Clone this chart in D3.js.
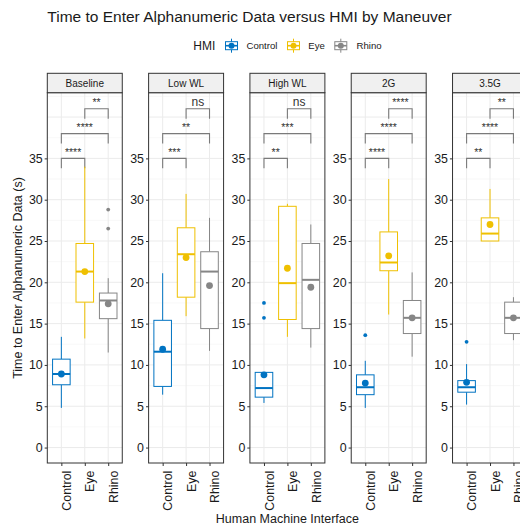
<!DOCTYPE html>
<html>
<head>
<meta charset="utf-8">
<script src="https://cdn.jsdelivr.net/npm/d3@7"></script>
<style>
  html, body { margin: 0; padding: 0; background: #fff; }
  svg { display: block; font-family: "Liberation Sans", Arial, sans-serif; }
</style>
</head>
<body>
<script>
// ---------------- data ----------------
const maneuvers = ["Baseline", "Low WL", "High WL", "2G", "3.5G"];
const hmis = ["Control", "Eye", "Rhino"];
const hmiColors = ["#0073C2", "#EFC000", "#868686"];
const yTicks = [0, 5, 10, 15, 20, 25, 30, 35];

// per maneuver: [Control, Eye, Rhino]
const whiskerLow  = [[4.8, 13.2, 11.5], [6.4, 15.9, 11.7], [5.4, 13.4, 12.1], [4.8, 16.1, 11.0], [5.2, 25.0, 13.0]];
const q1          = [[7.6, 17.6, 15.6], [7.4, 18.2, 14.4], [6.1, 15.5, 14.4], [6.4, 21.4, 13.8], [6.7, 25.0, 13.8]];
const medians     = [[8.9, 21.3, 17.8], [11.6, 23.4, 21.3], [7.2, 19.9, 20.3], [7.3, 22.4, 15.7], [7.3, 25.9, 15.7]];
const q3          = [[10.7, 24.7, 18.7], [15.4, 26.6, 23.7], [9.1, 29.2, 24.7], [8.8, 26.1, 17.8], [8.1, 27.8, 17.6]];
const whiskerHigh = [[13.4, 34.0, 20.5], [21.1, 30.7, 27.8], [9.1, 29.5, 27.0], [10.5, 32.5, 21.2], [10.1, 31.3, 18.2]];
const means       = [[8.9, 21.3, 17.4], [11.9, 23.0, 19.6], [8.8, 21.7, 19.4], [7.8, 23.2, 15.7], [7.9, 27.0, 15.7]];
const outliers    = [[[], [], [28.8, 26.5]], [[], [], []], [[17.5, 15.7], [], []], [[13.6], [], []], [[12.8], [], []]];

// significance brackets: pairs and their labels per maneuver
const pairs = [["Control", "Eye"], ["Control", "Rhino"], ["Eye", "Rhino"]];
const bracketLevels = [35, 38, 41];
const sigLabels = [
  ["****", "****", "**"],
  ["***", "**", "ns"],
  ["**", "***", "ns"],
  ["****", "****", "****"],
  ["**", "****", "**"]
];

// ---------------- drawing ----------------
const W = 520, H = 525;
const svg = d3.select("body").append("svg").attr("width", W).attr("height", H);
svg.append("rect").attr("width", W).attr("height", H).attr("fill", "#fff");

const panelTop = 92.7, panelBottom = 463;
const fx = d3.scaleBand().domain(maneuvers).range([47.3, 527.5]).paddingInner(0.26).paddingOuter(0);
const y = d3.scaleLinear().domain([-1.87, 42.95]).range([panelBottom, panelTop]);
const xIn = d3.scalePoint().domain(hmis).range([0, fx.bandwidth()]).padding(0.6);
const color = d3.scaleOrdinal().domain(hmis).range(hmiColors);
const bw = fx.bandwidth();
const boxW = xIn.step() * 0.75;

// title
svg.append("text").attr("x", 47.3).attr("y", 21.5)
  .attr("font-size", 15.5).attr("fill", "#1a1a1a")
  .text("Time to Enter Alphanumeric Data versus HMI by Maneuver");

// legend
const legend = svg.append("g");
legend.append("text").attr("x", 193.3).attr("y", 50).attr("font-size", 12).attr("fill", "#1a1a1a").text("HMI");
const legendKeyX = [224, 286, 333.3];
const legendLabelX = [246.5, 308.3, 356.5];
hmis.forEach((h, i) => {
  const kx = legendKeyX[i], ky = 38.2, ks = 15;
  const c = color(h);
  const k = legend.append("g");
  k.append("line").attr("x1", kx + ks / 2).attr("x2", kx + ks / 2).attr("y1", ky + 0.5).attr("y2", ky + ks - 0.5)
    .attr("stroke", c).attr("stroke-width", 1);
  k.append("rect").attr("x", kx + 1.5).attr("y", ky + 3.5).attr("width", ks - 3).attr("height", ks - 7)
    .attr("fill", "#fff").attr("stroke", c).attr("stroke-width", 1);
  k.append("line").attr("x1", kx + 1.5).attr("x2", kx + ks - 1.5).attr("y1", ky + ks / 2).attr("y2", ky + ks / 2)
    .attr("stroke", c).attr("stroke-width", 1.6);
  k.append("circle").attr("cx", kx + ks / 2).attr("cy", ky + ks / 2).attr("r", 3).attr("fill", c);
  legend.append("text").attr("x", legendLabelX[i]).attr("y", 49).attr("font-size", 9.6).attr("fill", "#1a1a1a").text(h);
});

// panels
maneuvers.forEach((m, mi) => {
  const g = svg.append("g").attr("transform", `translate(${fx(m)},0)`);

  g.append("rect").attr("x", 0).attr("y", panelTop).attr("width", bw).attr("height", panelBottom - panelTop).attr("fill", "#fff");

  // grid
  const minor = d3.range(2.5, 42.95, 5);
  const major = d3.range(0, 42.95, 5);
  g.selectAll(".gmin").data(minor).join("line")
    .attr("x1", 0).attr("x2", bw).attr("y1", d => y(d)).attr("y2", d => y(d))
    .attr("stroke", "#f3f3f3").attr("stroke-width", 0.6);
  g.selectAll(".gmaj").data(major).join("line")
    .attr("x1", 0).attr("x2", bw).attr("y1", d => y(d)).attr("y2", d => y(d))
    .attr("stroke", "#ebebeb").attr("stroke-width", 1);
  g.selectAll(".gx").data(hmis).join("line")
    .attr("x1", d => xIn(d)).attr("x2", d => xIn(d)).attr("y1", panelTop).attr("y2", panelBottom)
    .attr("stroke", "#ebebeb").attr("stroke-width", 1);

  // brackets
  pairs.forEach((p, pi) => {
    const yl = bracketLevels[pi];
    const x1 = xIn(p[0]), x2 = xIn(p[1]);
    const tip = 1.2;
    g.append("path")
      .attr("d", `M${x1},${y(yl - tip)}V${y(yl)}H${x2}V${y(yl - tip)}`)
      .attr("fill", "none").attr("stroke", "#7a7a7a").attr("stroke-width", 1.1);
    const lab = sigLabels[mi][pi];
    g.append("text").attr("x", (x1 + x2) / 2).attr("y", y(yl) - 2.6)
      .attr("text-anchor", "middle").attr("font-size", lab === "ns" ? 12 : 10.5)
      .attr("fill", "#333").text(lab);
  });

  // boxes
  hmis.forEach((h, hi) => {
    const c = color(h);
    const cx = xIn(h);
    g.append("line").attr("x1", cx).attr("x2", cx)
      .attr("y1", y(whiskerLow[mi][hi])).attr("y2", y(q1[mi][hi]))
      .attr("stroke", c).attr("stroke-width", 1);
    g.append("line").attr("x1", cx).attr("x2", cx)
      .attr("y1", y(q3[mi][hi])).attr("y2", y(whiskerHigh[mi][hi]))
      .attr("stroke", c).attr("stroke-width", 1);
    g.append("rect").attr("x", cx - boxW / 2).attr("y", y(q3[mi][hi]))
      .attr("width", boxW).attr("height", y(q1[mi][hi]) - y(q3[mi][hi]))
      .attr("fill", "#fff").attr("stroke", c).attr("stroke-width", 1);
    g.append("line").attr("x1", cx - boxW / 2).attr("x2", cx + boxW / 2)
      .attr("y1", y(medians[mi][hi])).attr("y2", y(medians[mi][hi]))
      .attr("stroke", c).attr("stroke-width", 2);
    g.selectAll(null).data(outliers[mi][hi]).join("circle")
      .attr("cx", cx).attr("cy", d => y(d)).attr("r", 1.9).attr("fill", c);
    g.append("circle").attr("cx", cx).attr("cy", y(means[mi][hi])).attr("r", 3.4).attr("fill", c);
  });

  // border
  g.append("rect").attr("x", 0).attr("y", panelTop).attr("width", bw).attr("height", panelBottom - panelTop)
    .attr("fill", "none").attr("stroke", "#333").attr("stroke-width", 1);

  // strip
  g.append("rect").attr("x", 0).attr("y", 73.3).attr("width", bw).attr("height", panelTop - 73.3)
    .attr("fill", "#f0f0f0").attr("stroke", "#333").attr("stroke-width", 1);
  g.append("text").attr("x", bw / 2).attr("y", 86.8).attr("text-anchor", "middle")
    .attr("font-size", 10).attr("fill", "#1a1a1a").text(m);

  // y axis
  const ya = g.append("g").call(d3.axisLeft(y).tickValues(yTicks).tickSize(2.6).tickPadding(2).tickFormat(d3.format("d")));
  ya.select(".domain").remove();
  ya.selectAll(".tick line").attr("stroke", "#333");
  ya.selectAll(".tick text").attr("font-size", 12.4).attr("fill", "#1a1a1a").attr("font-family", null);

  // x axis
  const xa = g.append("g").attr("transform", `translate(0,${panelBottom})`)
    .call(d3.axisBottom(xIn).tickSize(3).tickSizeOuter(0));
  xa.select(".domain").remove();
  xa.selectAll(".tick line").attr("stroke", "#333");
  xa.selectAll(".tick text")
    .attr("font-size", 12.4).attr("fill", "#1a1a1a").attr("font-family", null)
    .attr("transform", "rotate(-90)")
    .attr("text-anchor", "end")
    .attr("x", -7.7).attr("y", 9.2).attr("dy", null);
});

// axis titles
svg.append("text").attr("transform", "translate(22,278) rotate(-90)")
  .attr("text-anchor", "middle").attr("font-size", 12.5).attr("fill", "#1a1a1a")
  .text("Time to Enter Alphanumeric Data (s)");
svg.append("text").attr("x", 287.4).attr("y", 523)
  .attr("text-anchor", "middle").attr("font-size", 12.5).attr("fill", "#1a1a1a")
  .text("Human Machine Interface");
</script>
</body>
</html>
